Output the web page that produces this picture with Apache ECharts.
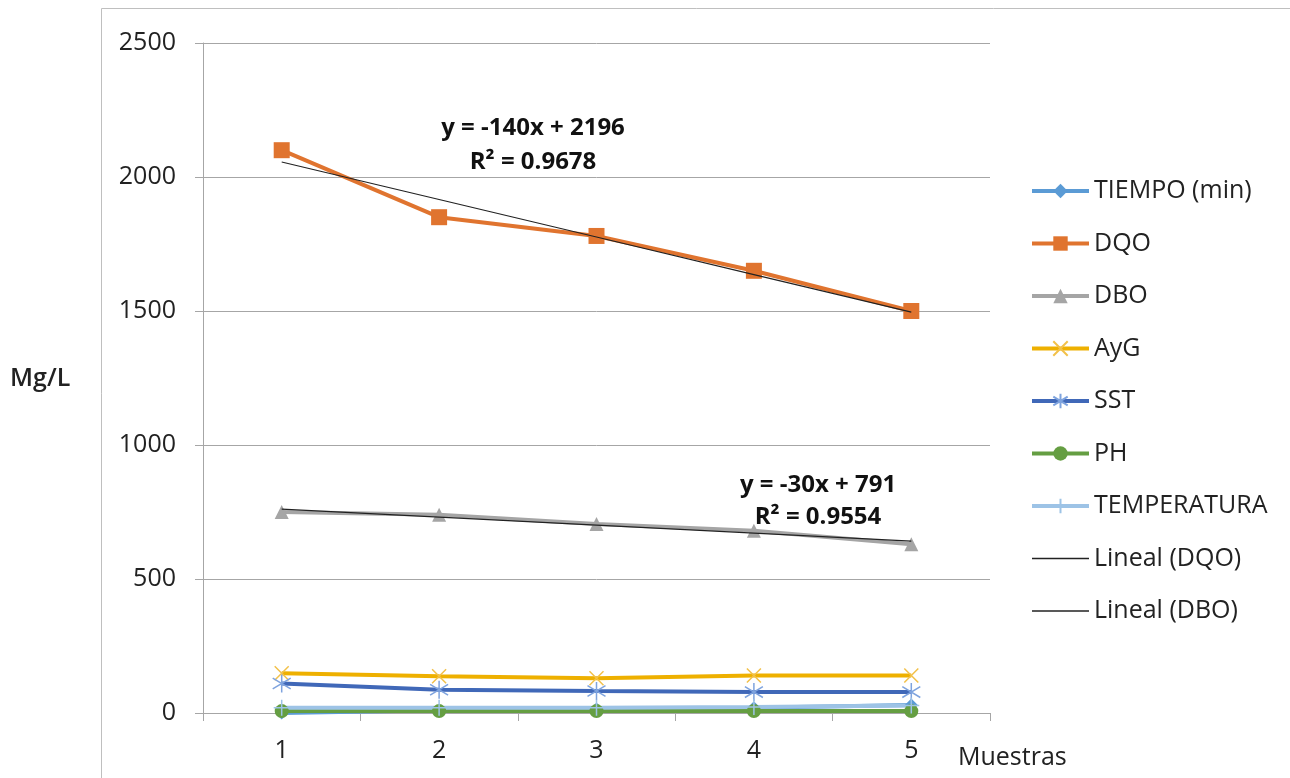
<!DOCTYPE html>
<html>
<head>
<meta charset="utf-8">
<script src="https://cdn.jsdelivr.net/npm/echarts@6/dist/echarts.min.js"></script>
<style>
  html, body { margin: 0; padding: 0; background: #ffffff; }
  #chart { width: 1290px; height: 778px; }
</style>
</head>
<body>
<div id="chart"></div>
<script>
// Sample numbers along the x axis
const muestras = ['1', '2', '3', '4', '5'];

// Measured parameters per sample
const tiempo = [0, 10, 15, 20, 30];
const dqo = [2100, 1850, 1780, 1650, 1500];
const dbo = [750, 740, 705, 680, 630];
const ayg = [148, 137, 130, 140, 140];
const sst = [110, 87, 82, 78, 78];
const ph = [7, 7, 7, 7, 7];
const temperatura = [20, 20, 20, 22, 28];

// Value axis ticks
const yTicks = [0, 500, 1000, 1500, 2000, 2500];

// Linear fits (slope, intercept, R²) as printed on the chart
const fitDQO = [-140, 2196, '0.9678'];
const fitDBO = [-30, 791, '0.9554'];

const FONT = '"Open Sans", "Noto Sans", sans-serif';

function fitLine(fit) {
  return muestras.map((m, i) => fit[0] * (i + 1) + fit[1]);
}
function eqText(fit) {
  const b = fit[0] < 0 ? '-' + Math.abs(fit[0]) : String(fit[0]);
  return 'y = ' + b + 'x + ' + fit[1];
}

const symX = 'path://M0 0L20 20M20 0L0 20';
const symStar = 'path://M10 0L10 20M1 4L19 16M19 4L1 16';
const symPlus = 'path://M10 0L10 20M0 10L20 10';
// thin bar used as the legend icon of the trend lines
const trendIcon = 'path://M0 0H57V1.3H0Z';

function series(name, data, color, symbol, size, extra) {
  return Object.assign({
    name: name,
    type: 'line',
    data: data,
    symbol: symbol,
    symbolSize: size,
    showAllSymbol: true,
    lineStyle: { color: color, width: 4 },
    itemStyle: { color: color },
    emphasis: { disabled: true },
    animation: false
  }, extra || {});
}

const chart = echarts.init(document.getElementById('chart'));

const option = {
  backgroundColor: '#ffffff',
  animation: false,
  textStyle: { fontFamily: FONT },
  grid: { left: 203, right: 300, top: 43, bottom: 65, containLabel: false },
  xAxis: {
    type: 'category',
    data: muestras,
    boundaryGap: true,
    axisLine: { show: true, lineStyle: { color: '#a6a6a6', width: 1 } },
    axisTick: { show: true, length: 8, lineStyle: { color: '#a6a6a6' } },
    axisLabel: { color: '#222', fontSize: 25, fontFamily: FONT, margin: 25 },
    splitLine: { show: false }
  },
  yAxis: {
    type: 'value',
    min: yTicks[0],
    max: yTicks[yTicks.length - 1],
    interval: yTicks[1] - yTicks[0],
    axisLine: { show: true, lineStyle: { color: '#a6a6a6', width: 1 } },
    axisTick: { show: true, length: 8, lineStyle: { color: '#a6a6a6' } },
    axisLabel: {
      color: '#222', fontSize: 25, fontFamily: FONT, margin: 27,
      formatter: (v) => String(v)
    },
    splitLine: { show: true, lineStyle: { color: '#a6a6a6', width: 1 } }
  },
  legend: {
    orient: 'vertical',
    left: 1030,
    top: 178,
    padding: 0,
    itemWidth: 57,
    itemHeight: 18,
    itemGap: 26.5,
    lineStyle: { width: 4 },
    textStyle: { fontSize: 25, color: '#222', fontFamily: FONT, lineHeight: 26 },
    data: [
      'TIEMPO (min)', 'DQO', 'DBO', 'AyG', 'SST', 'PH', 'TEMPERATURA',
      { name: 'Lineal (DQO)', icon: trendIcon },
      { name: 'Lineal (DBO)', icon: trendIcon }
    ]
  },
  series: [
    series('TIEMPO (min)', tiempo, '#5b9bd5', 'diamond', 13),
    series('DQO', dqo, '#e0742f', 'rect', 16),
    series('DBO', dbo, '#a5a5a5', 'triangle', 14),
    series('AyG', ayg, '#eeb000', symX, 14, {
      itemStyle: { color: '#f2c14a', borderColor: '#f2c14a', borderWidth: 1.5 }
    }),
    series('SST', sst, '#4068b8', symStar, 18, {
      itemStyle: { color: '#7ea3de', borderColor: '#7ea3de', borderWidth: 1.5 }
    }),
    series('PH', ph, '#659e42', 'circle', 14),
    series('TEMPERATURA', temperatura, '#9dc3e6', symPlus, 16, {
      itemStyle: { color: '#9dc3e6', borderColor: '#9dc3e6', borderWidth: 1.5 }
    }),
    series('Lineal (DQO)', fitLine(fitDQO), '#222222', 'none', 0, {
      lineStyle: { color: '#222222', width: 1.2 }, z: 5
    }),
    series('Lineal (DBO)', fitLine(fitDBO), '#222222', 'none', 0, {
      lineStyle: { color: '#222222', width: 1.2 }, z: 5
    })
  ],
  graphic: [
    {
      type: 'rect', silent: true, z: -1,
      shape: { x: 101.5, y: 8.5, width: 1300, height: 900 },
      style: { fill: 'none', stroke: '#bfbfbf', lineWidth: 1 }
    },
    {
      type: 'text', left: 10, top: 366,
      style: { text: 'Mg/L', font: '600 25px ' + FONT, fill: '#222' }
    },
    {
      type: 'text', left: 958, top: 745,
      style: { text: 'Muestras', font: '25px ' + FONT, fill: '#222' }
    },
    {
      type: 'text', x: 533, y: 128,
      style: { text: eqText(fitDQO), font: 'bold 24px ' + FONT, fill: '#111', align: 'center', verticalAlign: 'middle' }
    },
    {
      type: 'text', x: 533, y: 162,
      style: { text: 'R² = ' + fitDQO[2], font: 'bold 24px ' + FONT, fill: '#111', align: 'center', verticalAlign: 'middle' }
    },
    {
      type: 'text', x: 818, y: 485,
      style: { text: eqText(fitDBO), font: 'bold 24px ' + FONT, fill: '#111', align: 'center', verticalAlign: 'middle' }
    },
    {
      type: 'text', x: 818, y: 517,
      style: { text: 'R² = ' + fitDBO[2], font: 'bold 24px ' + FONT, fill: '#111', align: 'center', verticalAlign: 'middle' }
    }
  ]
};

chart.setOption(option);
</script>
</body>
</html>
